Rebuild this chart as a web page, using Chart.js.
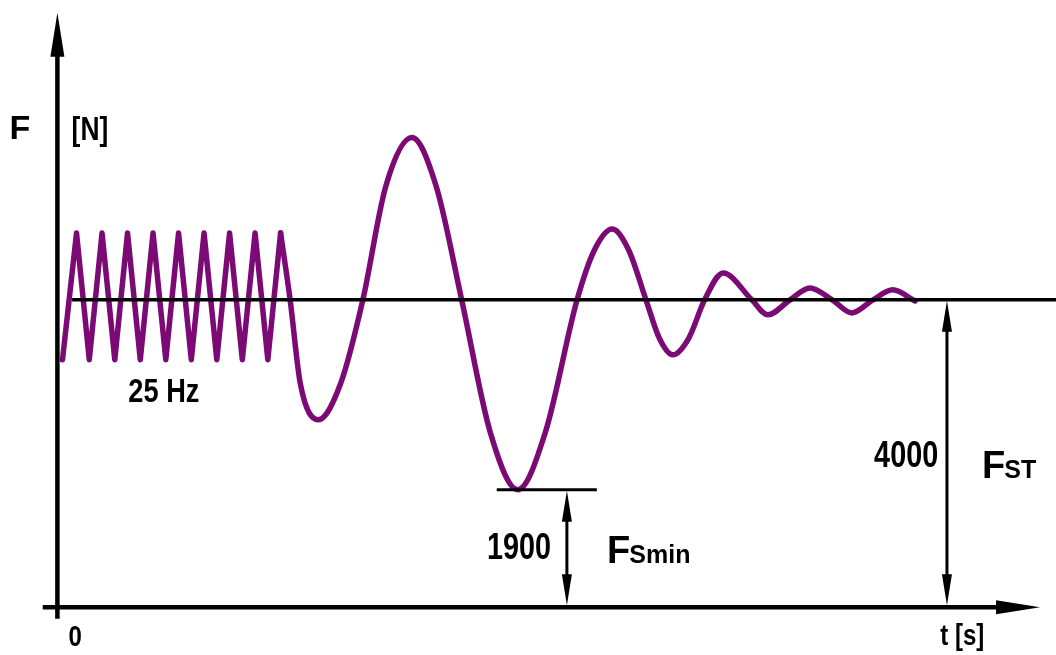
<!DOCTYPE html>
<html>
<head>
<meta charset="utf-8">
<script src="https://cdn.jsdelivr.net/npm/chart.js@4/dist/chart.umd.min.js"></script>
<style>
  html, body { margin: 0; padding: 0; background: #fff; }
  canvas { display: block; }
</style>
</head>
<body>
<canvas id="force-chart" width="1056" height="655"></canvas>
<script>
// time in ms (schematic), force in N
const vibT = [8, 30, 50, 70, 90, 110, 130, 150, 170, 190, 210, 230, 250, 270, 290, 310, 330, 350];
const vibF = [3220, 4870, 3220, 4870, 3220, 4870, 3220, 4870, 3220, 4870, 3220, 4870, 3220, 4870, 3220, 4870, 3220, 4870];

const decayT = [350, 365, 381, 409, 444, 479, 515, 556, 594, 634, 679, 722, 765, 815, 842, 870, 896, 923, 944, 965, 990, 1015, 1044, 1089, 1114, 1149, 1180, 1215, 1246, 1279, 1310, 1345];
const decayF = [4870, 4000, 2908, 2440, 2908, 4000, 5477, 6110, 5477, 4000, 2271, 1530, 2271, 4000, 4644, 4920, 4644, 4000, 3500, 3285, 3500, 4000, 4350, 4000, 3805, 4000, 4155, 4000, 3830, 4000, 4130, 3985];

const staticForce = 4000;
const minForce = 1530;
const staticLineT = [23, 1566];
const minLineT = [689, 846];

const xRange = [-90, 1566];
const yRange = [-620, 7900];
const axisT = [-23, 1541];   // x axis drawn from / to
const axisF = [-150, 7735];  // y axis drawn from / to
const minArrowT = 799;
const stArrowT = 1395;

// [text, t, F, size, narrow, align]
const labels = [
  ['F', -59, 6211, 34, false, 'center'],
  ['[N]', 51, 6198, 33, true, 'center'],
  ['25 Hz', 167, 2790, 34, true, 'center'],
  ['1900', 724, 761, 36, true, 'center'],
  ['4000', 1331, 1951, 36, true, 'center'],
  ['0', 28, -398, 30, true, 'center'],
  ['t [s]', 1419, -384, 30, true, 'center']
];
// [main, subscript, t, F(baseline)]
const symbols = [
  ['F', 'Smin', 862, 579],
  ['F', 'ST', 1450, 1685]
];

const purple = '#7c0a74';
const toPts = (ts, fs) => ts.map((t, i) => ({ x: t, y: fs[i] }));

const decorations = {
  id: 'decorations',
  afterDatasetsDraw(chart) {
    const ctx = chart.ctx;
    const xs = chart.scales.x, ys = chart.scales.y;
    const px = v => xs.getPixelForValue(v);
    const py = v => ys.getPixelForValue(v);

    function arrowHead(x, y, dir, len, half) {
      // dir: 'up', 'down', 'right'
      ctx.beginPath();
      ctx.moveTo(x, y);
      if (dir === 'up') { ctx.lineTo(x - half, y + len); ctx.lineTo(x + half, y + len); }
      if (dir === 'down') { ctx.lineTo(x - half, y - len); ctx.lineTo(x + half, y - len); }
      if (dir === 'right') { ctx.lineTo(x - len, y - half); ctx.lineTo(x - len, y + half); }
      ctx.closePath();
      ctx.fill();
    }

    ctx.save();
    ctx.strokeStyle = '#000';
    ctx.fillStyle = '#000';
    ctx.lineCap = 'butt';

    // axes
    const x0 = px(0), y0 = py(0);
    ctx.lineWidth = 4.5;
    ctx.beginPath();
    ctx.moveTo(x0, py(axisF[0]));
    ctx.lineTo(x0, py(axisF[1]) + 30);
    ctx.moveTo(px(axisT[0]), y0);
    ctx.lineTo(px(axisT[1]) - 30, y0);
    ctx.stroke();
    arrowHead(x0, py(axisF[1]), 'up', 44, 7);
    arrowHead(px(axisT[1]), y0, 'right', 44, 7);

    // dimension arrows
    ctx.lineWidth = 3;
    [[minArrowT, minForce], [stArrowT, staticForce]].forEach(([t, f]) => {
      const x = px(t), yTop = py(f);
      ctx.beginPath();
      ctx.moveTo(x, yTop + 20);
      ctx.lineTo(x, y0 - 20);
      ctx.stroke();
      arrowHead(x, yTop + 1, 'up', 31, 5);
      arrowHead(x, y0 - 2, 'down', 31, 5);
    });

    // texts
    ctx.textBaseline = 'middle';
    labels.forEach(([text, t, f, size, narrow, align]) => {
      ctx.font = 'bold ' + size + 'px "Liberation Sans", Arial, sans-serif';
      ctx.textAlign = align;
      ctx.save();
      ctx.translate(px(t), py(f));
      if (narrow) ctx.scale(0.8, 1);
      ctx.fillText(text, 0, 0);
      ctx.restore();
    });
    ctx.textBaseline = 'alphabetic';
    ctx.textAlign = 'left';
    symbols.forEach(([main, sub, t, f]) => {
      const x = px(t), y = py(f);
      ctx.font = 'bold 38px "Liberation Sans", Arial, sans-serif';
      ctx.fillText(main, x, y);
      const w = ctx.measureText(main).width;
      ctx.font = 'bold 25px "Liberation Sans", Arial, sans-serif';
      ctx.fillText(sub, x + w - 1, y);
    });
    ctx.restore();
  }
};

new Chart(document.getElementById('force-chart').getContext('2d'), {
  type: 'line',
  data: {
    datasets: [
      {
        label: 'static',
        data: toPts(staticLineT, [staticForce, staticForce]),
        borderColor: '#000',
        borderWidth: 3.5,
        pointRadius: 0
      },
      {
        label: 'min',
        data: toPts(minLineT, [minForce, minForce]),
        borderColor: '#000',
        borderWidth: 3,
        pointRadius: 0
      },
      {
        label: '25 Hz',
        data: toPts(vibT, vibF),
        borderColor: purple,
        borderWidth: 5.5,
        borderJoinStyle: 'round',
        borderCapStyle: 'round',
        tension: 0,
        pointRadius: 0
      },
      {
        label: 'decay',
        data: toPts(decayT, decayF),
        borderColor: purple,
        borderWidth: 5.5,
        borderCapStyle: 'round',
        cubicInterpolationMode: 'monotone',
        pointRadius: 0
      }
    ]
  },
  options: {
    responsive: false,
    animation: false,
    layout: { padding: 0 },
    plugins: {
      legend: { display: false },
      title: { display: false },
      tooltip: { enabled: false }
    },
    scales: {
      x: { type: 'linear', display: false, min: xRange[0], max: xRange[1] },
      y: { type: 'linear', display: false, min: yRange[0], max: yRange[1] }
    }
  },
  plugins: [decorations]
});
</script>
</body>
</html>
